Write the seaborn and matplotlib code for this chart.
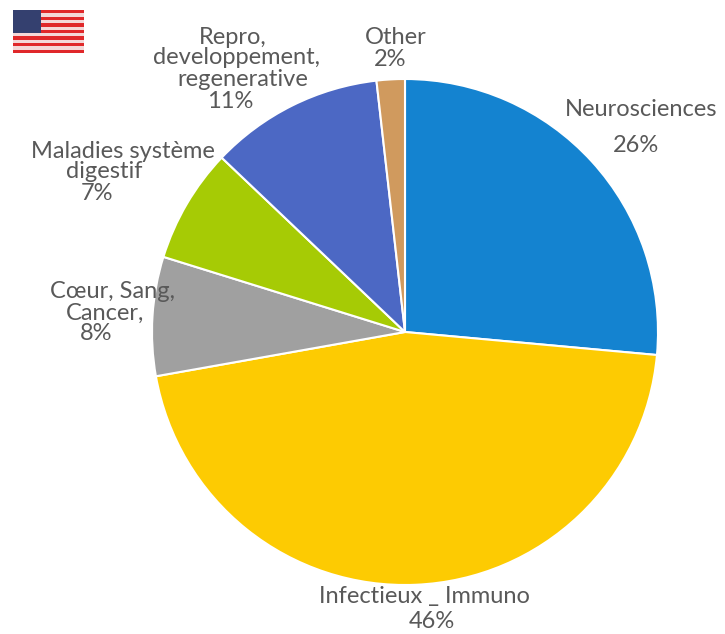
import seaborn as sns
import matplotlib.pyplot as plt
from matplotlib.patches import Rectangle

# shares read from the slice edges, the labels show them rounded
values = [26.45, 45.75, 7.6, 7.3, 11.1, 1.8]
colors = ['#1483D0', '#FDCB02', '#A0A0A0', '#A6CB05', '#4C68C4', '#D09A5E']

# label lines are placed one by one, the reference does not centre them evenly
lines = ['Neurosciences', '26%', 'Infectieux _ Immuno', '46%',
         'Cœur, Sang,', 'Cancer,', '8%',
         'Maladies système', 'digestif', '7%',
         'Repro,', 'developpement,', 'regenerative', '11%',
         'Other', '2%']
line_x = [641, 636, 424, 432, 113, 105, 96, 123, 104, 97, 233, 237, 243, 230, 396, 390]
line_y = [110, 145, 597, 622, 292, 313, 334, 151, 172, 193, 37, 58, 80, 101, 37, 59]

sns.set_theme(style='white')
plt.rcParams['font.family'] = ['Lato', 'DejaVu Sans']

fig = plt.figure(figsize=(7.25, 6.34), dpi=100)
ax = fig.add_axes([0, 0, 1, 1])

ax.pie(values, colors=colors, startangle=90, counterclock=False, center=(405, 634 - 332), radius=253,
       wedgeprops={'edgecolor': 'white', 'linewidth': 1.5}, frame=True)
ax.set_xlim(0, 725)
ax.set_ylim(0, 634)
ax.set_aspect('auto')
ax.axis('off')

for txt, x, y in zip(lines, line_x, line_y):
    ax.text(x, 634 - y, txt, ha='center', va='center', fontsize=17, color='#595959')

# flag
ax.add_patch(Rectangle((13, 634 - 53), 71, 43, color='#F4D8D8', lw=0))
for i in range(0, 13, 2):
    ax.add_patch(Rectangle((13, 634 - 10 - (i + 1) * 43 / 13), 71, 43 / 13, color='#E0282A', lw=0))
ax.add_patch(Rectangle((13, 634 - 33), 28, 23, color='#34406F', lw=0))

fig.savefig('out.png', dpi=100)
